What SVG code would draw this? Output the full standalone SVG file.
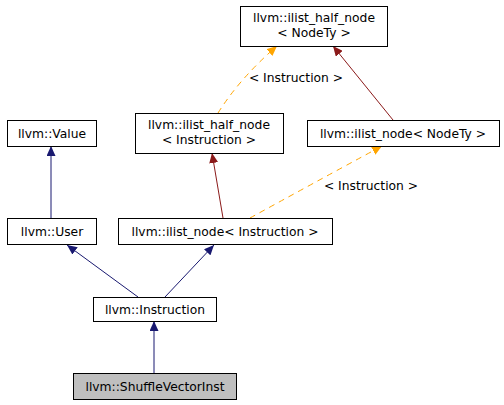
<svg xmlns="http://www.w3.org/2000/svg" width="504" height="405" viewBox="0 0 504 405">
<style>
.n rect{fill:#fff;stroke:#000;stroke-width:1}
.g rect{fill:#bfbfbf}
text{font-family:"DejaVu Sans","Liberation Sans",sans-serif;font-size:12.3px;text-anchor:middle;fill:#000}
.b{stroke:#191970;fill:none}
.r{stroke:#8b1a1a;fill:none}
.o{stroke:#ffa500;fill:none;stroke-dasharray:6,5}
</style>
<defs>
<marker id="ab" markerUnits="userSpaceOnUse" markerWidth="11" markerHeight="9" refX="10" refY="4.5" orient="auto"><path d="M0,0 L10,4.5 L0,9 z" fill="#191970"/></marker>
<marker id="ar" markerUnits="userSpaceOnUse" markerWidth="11" markerHeight="9" refX="10" refY="4.5" orient="auto"><path d="M0,0 L10,4.5 L0,9 z" fill="#8b1a1a"/></marker>
<marker id="ao" markerUnits="userSpaceOnUse" markerWidth="11" markerHeight="9" refX="10" refY="4.5" orient="auto"><path d="M0,0 L10,4.5 L0,9 z" fill="#ffa500"/></marker>
</defs>
<g id="edges">
<line class="b" x1="51" y1="218" x2="51" y2="146" marker-end="url(#ab)"/>
<line class="r" x1="223" y1="218" x2="212" y2="153" marker-end="url(#ar)"/>
<line class="r" x1="393" y1="120" x2="333" y2="46" marker-end="url(#ar)"/>
<path class="o" d="M218,113 Q240,78 277,46" marker-end="url(#ao)"/>
<text x="296" y="82">&lt; Instruction &gt;</text>
<path class="o" d="M250,218 Q310,185 382,146" marker-end="url(#ao)"/>
<text x="371" y="190">&lt; Instruction &gt;</text>
<line class="b" x1="138" y1="297" x2="67" y2="245" marker-end="url(#ab)"/>
<line class="b" x1="165" y1="297" x2="214" y2="245" marker-end="url(#ab)"/>
<line class="b" x1="154" y1="373" x2="154" y2="321" marker-end="url(#ab)"/>
</g>
<g id="ilist_half_node_NodeTy" class="n"><rect x="240.5" y="6.5" width="147" height="40"/><text x="314" y="22">llvm::ilist_half_node</text><text x="314" y="37">&lt; NodeTy &gt;</text></g>
<g id="Value" class="n"><rect x="7.5" y="120.5" width="89" height="26"/><text x="52" y="138">llvm::Value</text></g>
<g id="ilist_half_node_Instruction" class="n"><rect x="135.5" y="113.5" width="148" height="40"/><text x="209" y="129">llvm::ilist_half_node</text><text x="209" y="144">&lt; Instruction &gt;</text></g>
<g id="ilist_node_NodeTy" class="n"><rect x="307.5" y="120.5" width="192" height="26"/><text x="403" y="138">llvm::ilist_node&lt; NodeTy &gt;</text></g>
<g id="User" class="n"><rect x="7.5" y="218.5" width="89" height="26"/><text x="52" y="236">llvm::User</text></g>
<g id="ilist_node_Instruction" class="n"><rect x="118.5" y="218.5" width="214" height="26"/><text x="225" y="236">llvm::ilist_node&lt; Instruction &gt;</text></g>
<g id="Instruction" class="n"><rect x="93.5" y="297.5" width="123" height="24"/><text x="155" y="314">llvm::Instruction</text></g>
<g id="ShuffleVectorInst" class="n g"><rect x="73.5" y="373.5" width="163" height="26"/><text x="155" y="391">llvm::ShuffleVectorInst</text></g>
</svg>
